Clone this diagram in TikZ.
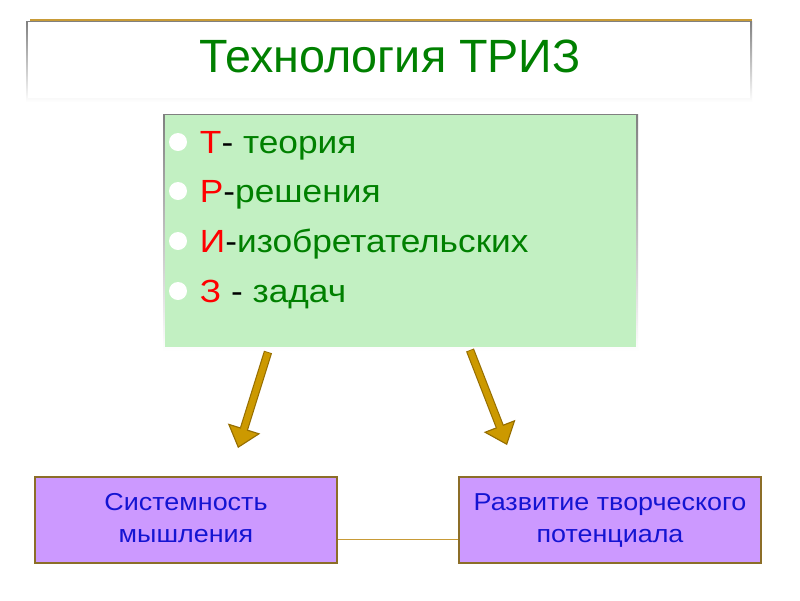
\documentclass[tikz,border=0pt]{standalone}
\usepackage{fontspec}
\setmainfont{Liberation Sans}
\newfontfamily\widesans[FakeStretch=1.1]{Liberation Sans}
\usepackage{tikz}
\usetikzlibrary{arrows.meta}
\definecolor{titlegreen}{RGB}{0, 128, 0}
\definecolor{listgreen}{RGB}{0, 128, 0}
\definecolor{listbg}{RGB}{194, 240, 194}
\definecolor{boxviolet}{RGB}{204, 153, 255}
\definecolor{boxedge}{RGB}{140, 110, 40}
\definecolor{boxtext}{RGB}{20, 20, 210}
\definecolor{arrgold}{RGB}{204, 153, 0}
\definecolor{arredge}{RGB}{150, 110, 0}
\definecolor{rulegold}{RGB}{200, 155, 55}
\definecolor{shade}{gray}{0.88}

\begin{document}
\begin{tikzpicture}[x=0.025cm, y=-0.025cm,
		resultbox/.style={draw=boxedge, line width=1.4pt, fill=boxviolet,
			minimum width=7.55cm, minimum height=2.15cm, align=center,
			text=boxtext, font=\widesans\fontsize{17.4}{23}\selectfont},
		item/.style={anchor=base west, text=listgreen,
			font=\widesans\fontsize{22.8}{26}\selectfont},
		link/.style={rulegold, line width=1.1pt}]
			\useasboundingbox (0,0) rectangle (800,600);
			\fill[white] (0,0) rectangle (800,600);

			% title bar
			\draw[rulegold, line width=1pt] (30,20) -- (752,20);
			\fill[shade] (26,21) rectangle (752,102);
			\fill[white] (28,22) rectangle (750,98);
			\node[text=titlegreen, font=\fontsize{33.2}{40}\selectfont] (title) at (390,56) {Технология ТРИЗ};

			% list box
			\fill[shade] (163,114) rectangle (638,351);
			\fill[listbg] (165,115) rectangle (636,347);
			\foreach \yb in {153,202,252,302}
				\fill[white] (178,\yb-11) circle (9);
			\node[item] (t) at (195,153) {\textcolor{red}{Т}\textcolor{black}{-} теория};
			\node[item] (r) at (195,202) {\textcolor{red}{Р}\textcolor{black}{-}решения};
			\node[item] (i) at (195,252) {\textcolor{red}{И}\textcolor{black}{-}изобретательских};
			\node[item] (z) at (195,302) {\textcolor{red}{З} \textcolor{black}{-} задач};

			% arrows
			\coordinate (a1) at (268,352);
			\coordinate (b1) at (238,448);
			\coordinate (a2) at (470,350);
			\coordinate (b2) at (507,445);
			\foreach \s/\e in {a1/b1, a2/b2} {
				\draw[arredge, line width=6pt,
					-{Triangle[width=24pt, length=14.5pt, fill=arrgold, line width=0.8pt]}] (\s) -- (\e);
				\draw[arrgold, line width=4.4pt, shorten <=0.6pt, shorten >=13pt] (\s) -- (\e);
			}

			% result boxes
			\node[resultbox] (sys) at (186,520) {\strut Системность\\мышления\strut};
			\node[resultbox] (dev) at (610,520) {\strut Развитие творческого\\потенциала\strut};
			\draw[link] ([yshift=-14pt]sys.east) -- ([yshift=-14pt]dev.west);

		\end{tikzpicture}
\end{document}
